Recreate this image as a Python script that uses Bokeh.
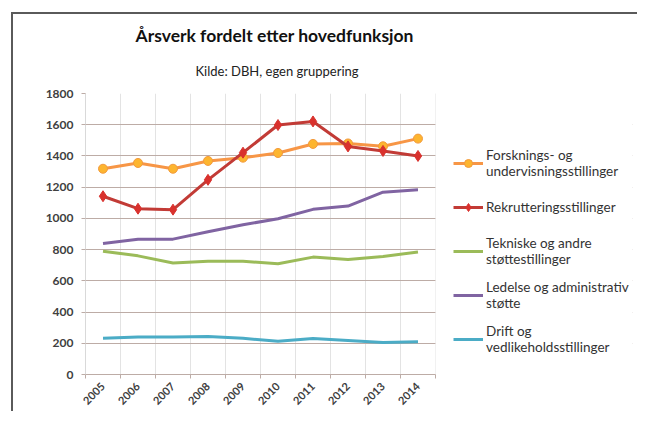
import math
from bokeh.plotting import figure
from bokeh.models import (Range1d, FixedTicker, Legend, LegendItem, Title, BoxAnnotation)
from bokeh.embed import file_html
from bokeh.resources import INLINE

# ---- data ----
years = ["2005", "2006", "2007", "2008", "2009", "2010", "2011", "2012", "2013", "2014"]
forskning = [1318, 1355, 1318, 1368, 1389, 1419, 1477, 1480, 1462, 1511]
rekruttering = [1142, 1062, 1056, 1247, 1421, 1598, 1621, 1461, 1432, 1400]
teknisk = [790, 760, 714, 725, 725, 710, 752, 736, 756, 785]
ledelse = [839, 867, 867, 914, 959, 998, 1058, 1079, 1168, 1183]
drift = [232, 240, 240, 244, 232, 213, 231, 218, 205, 209]
y_ticks = [0, 200, 400, 600, 800, 1000, 1200, 1400, 1600, 1800]

labels = [
    "Forsknings- og\nundervisningsstillinger",
    "Rekrutteringsstillinger",
    "Tekniske og andre\nstøttestillinger",
    "Ledelse og administrativ\nstøtte",
    "Drift og\nvedlikeholdsstillinger",
]
title_text = "Årsverk fordelt etter hovedfunksjon"
subtitle_text = "Kilde: DBH, egen gruppering"

FONT = "Lato"
TXT = "#404040"

# category slots: point i sits in the middle of slot [i, i+1]
n = len(years)
xc = [i + 0.5 for i in range(n)]
edges = list(range(n + 1))

# the frame also holds the legend area to the right of the plotting slots
PLOT_W, FRAME_W = 350, 547
x_end = n * FRAME_W / PLOT_W

p = figure(width=626, height=399,
           x_range=Range1d(0, x_end), y_range=Range1d(y_ticks[0], y_ticks[-1]),
           output_backend="svg", toolbar_location=None,
           min_border_left=72, min_border_top=79, min_border_bottom=39, min_border_right=7)
p.styles = {"margin-left": "11px", "margin-top": "12px",
            "border-top": "2px solid #5a5a5a", "border-left": "2px solid #5a5a5a"}
p.outline_line_color = None
p.background_fill_color = "white"
p.border_fill_color = "white"

# grids
p.xgrid.ticker = FixedTicker(ticks=edges)
p.xgrid.grid_line_color = "#e3e3e3"
p.ygrid.ticker = FixedTicker(ticks=y_ticks)
p.ygrid.grid_line_color = "#bdaca6"
# blank out the grid to the right of the last slot (legend area)
p.add_layout(BoxAnnotation(left=n, fill_color="white", fill_alpha=1.0,
                           line_color=None, level="underlay"))

# y axis
ya = p.yaxis[0]
ya.ticker = FixedTicker(ticks=y_ticks)
ya.axis_line_color = "#d9d9d9"
ya.major_tick_line_color = "#bdaca6"
ya.major_tick_out = 4
ya.major_tick_in = 0
ya.minor_tick_line_color = None
ya.major_label_standoff = 8
ya.major_label_text_font = FONT
ya.major_label_text_font_style = "bold"
ya.major_label_text_font_size = "12px"
ya.major_label_text_color = TXT

# x axis: labels at slot centres, tick marks at slot edges
xa = p.xaxis[0]
xa.bounds = (0, n)
xa.ticker = FixedTicker(ticks=xc, minor_ticks=edges)
xa.major_label_overrides = {c: y for c, y in zip(xc, years)}
xa.axis_line_color = "#bdaca6"
xa.major_tick_line_color = None
xa.minor_tick_line_color = "#bdaca6"
xa.minor_tick_out = 4
xa.minor_tick_in = 0
xa.major_label_orientation = math.pi / 4
xa.major_label_standoff = 4
xa.major_label_text_font = FONT
xa.major_label_text_font_style = "bold"
xa.major_label_text_font_size = "11px"
xa.major_label_text_color = TXT

# series
lf = p.line(xc, forskning, line_color="#f79646", line_width=3)
sf = p.scatter(xc, forskning, marker="circle", size=9, fill_color="#fdb52f",
               line_color="#f39a3d", line_width=1)
lr = p.line(xc, rekruttering, line_color="#c23b36", line_width=3)
sr = p.scatter(xc, rekruttering, marker="diamond", size=11, fill_color="#d9312d",
               line_color="#d9312d", line_width=1)
lt = p.line(xc, teknisk, line_color="#9bbb59", line_width=3)
ll = p.line(xc, ledelse, line_color="#8064a2", line_width=3)
ld = p.line(xc, drift, line_color="#4bacc6", line_width=3)

legend = Legend(items=[
    LegendItem(label=labels[0], renderers=[lf, sf]),
    LegendItem(label=labels[1], renderers=[lr, sr]),
    LegendItem(label=labels[2], renderers=[lt]),
    LegendItem(label=labels[3], renderers=[ll]),
    LegendItem(label=labels[4], renderers=[ld]),
], location=(368, 18), border_line_color=None, background_fill_alpha=0,
    glyph_width=30, glyph_height=20, label_standoff=3, label_height=34, spacing=10,
    padding=2, margin=0,
    label_text_font=FONT, label_text_font_size="13.5px", label_text_color="#333333",
    label_text_line_height=1.3)
p.add_layout(legend, "center")

# titles (subtitle nearest the frame, then main title)
p.add_layout(Title(text=subtitle_text, align="left", offset=110, standoff=30,
                   text_font=FONT, text_font_style="normal", text_font_size="13px",
                   text_color="#222222"), "above")
p.add_layout(Title(text=title_text, align="left", offset=50, standoff=0,
                   text_font=FONT, text_font_style="bold", text_font_size="17.5px",
                   text_color="#111111"), "above")

open("out.html", "w").write(file_html(p, INLINE))
